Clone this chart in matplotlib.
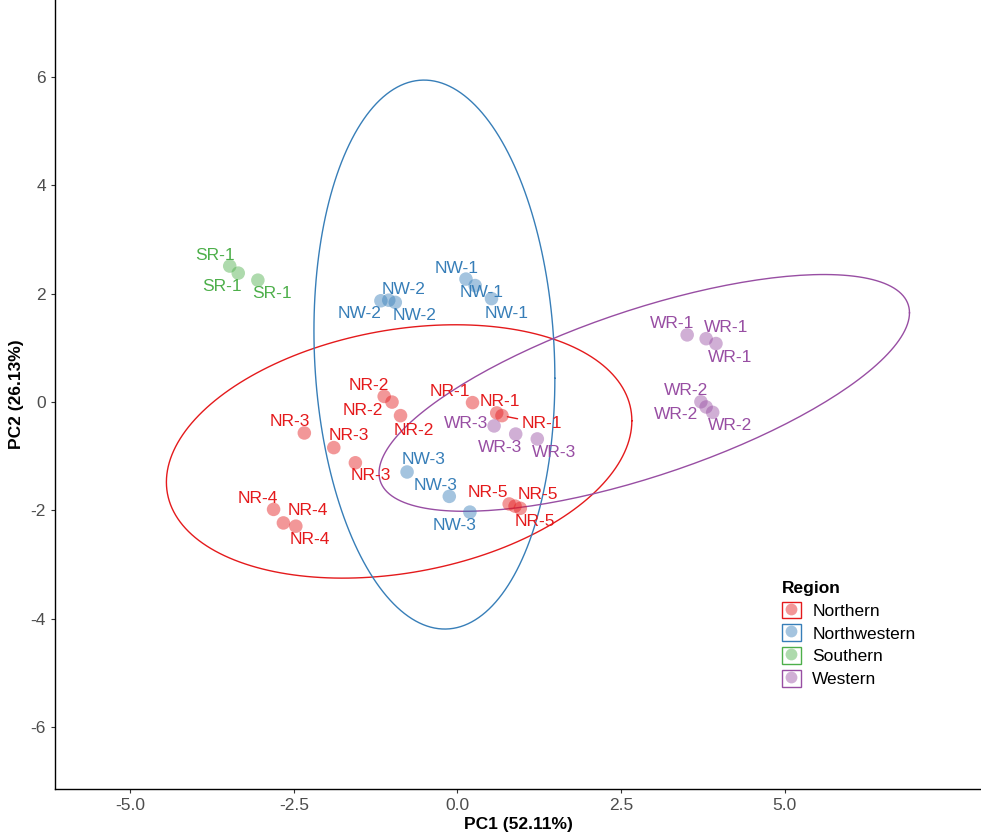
import numpy as np
import matplotlib
matplotlib.use("Agg")
import matplotlib.pyplot as plt
from matplotlib.lines import Line2D
from matplotlib.patches import Rectangle

plt.rcParams["font.family"] = ["Liberation Sans", "DejaVu Sans"]
plt.rcParams["axes.unicode_minus"] = False

# PCA scores
regions = ["Northern", "Northwestern", "Southern", "Western"]
region_colors = ["#E41A1C", "#377EB8", "#4DAF4A", "#984EA3"]

sample_names = (["NR-1"] * 3 + ["NR-2"] * 3 + ["NR-3"] * 3 + ["NR-4"] * 3 + ["NR-5"] * 3
                + ["NW-1"] * 3 + ["NW-2"] * 3 + ["NW-3"] * 3
                + ["SR-1"] * 3
                + ["WR-1"] * 3 + ["WR-2"] * 3 + ["WR-3"] * 3)
sample_region = ["Northern"] * 15 + ["Northwestern"] * 9 + ["Southern"] * 3 + ["Western"] * 9

pc1 = [0.23, 0.60, 0.68, -1.12, -1.00, -0.87, -2.34, -1.89, -1.56,
       -2.81, -2.66, -2.47, 0.79, 0.88, 0.96,
       0.13, 0.27, 0.52, -1.17, -1.05, -0.95, -0.77, -0.125, 0.19,
       -3.48, -3.35, -3.05,
       3.51, 3.80, 3.95, 3.72, 3.80, 3.90, 0.56, 0.89, 1.22]
pc2 = [-0.01, -0.20, -0.25, 0.105, 0.00, -0.25, -0.57, -0.84, -1.12,
       -1.98, -2.23, -2.29, -1.88, -1.92, -1.96,
       2.27, 2.15, 1.91, 1.87, 1.88, 1.84, -1.29, -1.74, -2.03,
       2.51, 2.38, 2.25,
       1.24, 1.17, 1.08, 0.006, -0.09, -0.19, -0.44, -0.59, -0.68]

# repelled label offsets in pixels (right, down)
label_dx = [-23, 3, 40, -15, -29, 13, -15, 15, 15, -16, 24, 14, -21, 23, 15,
            -9, 6, 15, -21, 15, 19, 16, -14, -15,
            -15, -16, 14,
            -15, 20, 14, -15, -30, 17, -28, -16, 17]
label_dy = [-11, -11, 8, -11, 8, 15, -11, -12, 13, -11, -12, 13, -11, -12, 13,
            -11, 7, 15, 13, -11, 13, -12, -11, 13,
            -11, 13, 13,
            -11, -11, 14, -11, 8, 13, -2, 13, 14]


def cov_trob(x, nu=5, maxit=25, tol=0.01):
    # multivariate t estimate of location / scatter (as MASS::cov.trob)
    n, p = x.shape
    wt = np.ones(n)
    loc = x.mean(axis=0)
    w = np.sqrt(wt)
    for _ in range(maxit):
        w0 = w
        X = x - loc
        _, d, vt = np.linalg.svd(np.sqrt(w / w.sum())[:, None] * X, full_matrices=False)
        wX = X @ vt.T @ np.diag(1 / d)
        Q = (wX ** 2).sum(axis=1)
        w = wt * (nu + p) / (nu + Q)
        loc = (w[:, None] * x).sum(axis=0) / w.sum()
        if np.all(np.abs(w - w0) < tol):
            break
    sX = np.sqrt(w)[:, None] * X
    return loc, sX.T @ sX / wt.sum()


def ellipse_xy(x, level=0.95, segments=200):
    loc, shape = cov_trob(x)
    dfd = len(x) - 1
    fq = dfd / 2 * ((1 - level) ** (-2 / dfd) - 1)  # F(2, dfd) quantile
    radius = np.sqrt(2 * fq)
    chol = np.linalg.cholesky(shape).T
    t = np.linspace(0, 2 * np.pi, segments + 1)
    circle = np.column_stack([np.cos(t), np.sin(t)])
    return loc + radius * circle @ chol


fig = plt.figure(figsize=(9.81, 8.32), dpi=100)
ax = fig.add_axes([55 / 981, 43 / 832, 926 / 981, 789 / 832])

pc1 = np.array(pc1)
pc2 = np.array(pc2)
reg = np.array(sample_region)

for name, col in zip(regions, region_colors):
    m = reg == name
    ax.scatter(pc1[m], pc2[m], s=95, color=col, alpha=0.45, edgecolors="none", zorder=3)
    if m.sum() > 3:
        e = ellipse_xy(np.column_stack([pc1[m], pc2[m]]))
        ax.plot(e[:, 0], e[:, 1], color=col, lw=1.0, zorder=2)

for i, lab in enumerate(sample_names):
    col = region_colors[regions.index(sample_region[i])]
    dx, dy = label_dx[i], label_dy[i]
    arrow = None
    if np.hypot(dx, dy) > 35:
        arrow = dict(arrowstyle="-", color=col, lw=1.0, shrinkA=1, shrinkB=4)
    ax.annotate(lab, (pc1[i], pc2[i]), xytext=(dx, -dy), textcoords="offset pixels",
                ha="center", va="center", color=col, fontsize=12.5, zorder=4,
                arrowprops=arrow)

ax.set_xlim(-6.15, 8.0)
ax.set_ylim(-7.14, 7.42)
ax.set_xticks([-5, -2.5, 0, 2.5, 5])
ax.set_xticklabels(["-5.0", "-2.5", "0.0", "2.5", "5.0"])
ax.set_yticks([-6, -4, -2, 0, 2, 4, 6])
ax.tick_params(labelsize=12.5, labelcolor="#4D4D4D", color="#333333", length=3, width=0.8)
for s in ["top", "right"]:
    ax.spines[s].set_visible(False)
for s in ["left", "bottom"]:
    ax.spines[s].set_linewidth(1.0)
ax.set_xlabel("PC1 (52.11%)", fontsize=12.5, fontweight="bold", labelpad=3)
ax.set_ylabel("PC2 (26.13%)", fontsize=12.5, fontweight="bold", labelpad=5)

handles = []
for col in region_colors:
    box = Rectangle((0, 0), 1, 1, facecolor="none", edgecolor=col, lw=1.0)
    dot = Line2D([], [], ls="none", marker="o", markersize=8.5, color=col, alpha=0.45,
                 markeredgecolor="none")
    handles.append((box, dot))
leg = ax.legend(handles, regions, title="Region", loc="upper left",
                bbox_to_anchor=(775 / 981, 1 - 574 / 832), bbox_transform=fig.transFigure,
                frameon=False, fontsize=12.5, title_fontproperties={"weight": "bold", "size": 12.5},
                handlelength=1.1, handleheight=1.1, handletextpad=0.65, labelspacing=0.32,
                borderaxespad=0)
leg._legend_box.align = "left"

fig.savefig("out.png", dpi=100)
